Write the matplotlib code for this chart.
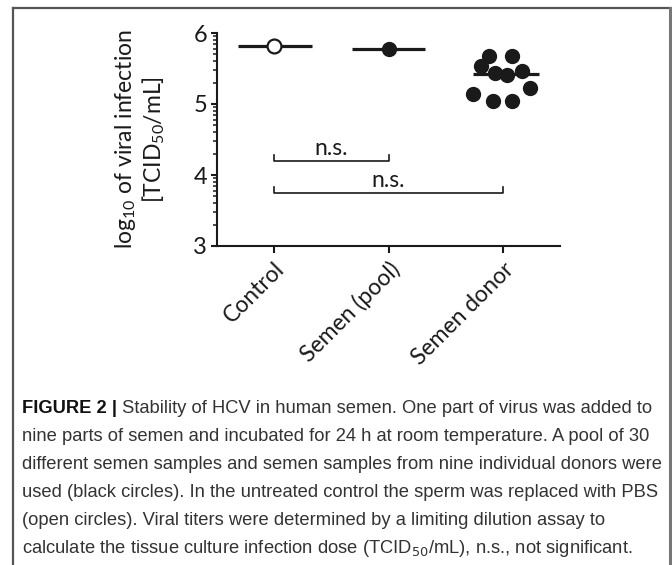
import matplotlib
matplotlib.use("Agg")
import matplotlib.pyplot as plt
import numpy as np
from matplotlib.lines import Line2D

GROUPS = ["Control", "Semen (pool)", "Semen donor"]
CONTROL = [5.81]
POOL = [5.78]
DONOR = [5.67, 5.67, 5.53, 5.43, 5.41, 5.47, 5.14, 5.23, 5.04, 5.04]
DONOR_JITTER = [-0.12, 0.08, -0.19, -0.07, 0.04, 0.17, -0.26, 0.24, -0.09, 0.08]
COMPARISONS = [(0, 1, 4.2, "n.s."), (0, 2, 3.75, "n.s.")]

CAPTION_HEAD = "FIGURE 2 |"
CAPTION = [
    " Stability of HCV in human semen. One part of virus was added to",
    "nine parts of semen and incubated for 24 h at room temperature. A pool of 30",
    "different semen samples and semen samples from nine individual donors were",
    "used (black circles). In the untreated control the sperm was replaced with PBS",
    "(open circles). Viral titers were determined by a limiting dilution assay to",
    "calculate the tissue culture infection dose (TCID$_{50}$/mL), n.s., not significant.",
]

CHART_FONT = "Lato"
CAPTION_FONT = "Liberation Sans"


def main():
    plt.rcParams["mathtext.fontset"] = "custom"
    plt.rcParams["mathtext.rm"] = CHART_FONT
    plt.rcParams["mathtext.it"] = CHART_FONT
    plt.rcParams["font.family"] = CHART_FONT

    fig = plt.figure(figsize=(6.72, 5.65), dpi=100)
    ax = fig.add_axes([217 / 672, 1 - 246 / 565, 343 / 672, 213 / 565])

    ink = "#1a1a1a"

    # median lines
    spans = [(-0.32, 0.33), (0.68, 1.32), (1.74, 2.32)]
    medians = [np.median(CONTROL), np.median(POOL), np.median(DONOR)]
    for (x0, x1), m in zip(spans, medians):
        ax.plot([x0, x1], [m, m], color=ink, lw=2.3, solid_capstyle="butt", zorder=2)

    ax.plot([0] * len(CONTROL), CONTROL, "o", ms=10, mfc="white", mec=ink, mew=1.6, zorder=3)
    ax.plot([1] * len(POOL), POOL, "o", ms=10, mfc=ink, mec=ink, zorder=3)
    donor_x = 2 + np.array(DONOR_JITTER)
    ax.plot(donor_x, DONOR, "o", ms=10, mfc=ink, mec=ink, zorder=3)

    # significance brackets
    for a, b, y, label in COMPARISONS:
        h = 0.085
        ax.plot([a, a, b, b], [y + h, y, y, y + h], color=ink, lw=1.2, zorder=2)
        ax.text((a + b) / 2, y + 0.02, label, ha="center", va="bottom",
                fontsize=16.5, color=ink)

    ax.set_xlim(-0.5, 2.5)
    ax.set_ylim(3, 6)
    ax.set_yticks([3, 4, 5, 6])
    minor = [n + np.log10(k) for n in (3, 4, 5) for k in range(2, 10)]
    ax.set_yticks(minor, minor=True)
    ax.set_xticks(range(len(GROUPS)))
    ax.set_xticklabels(GROUPS, rotation=45, ha="right", rotation_mode="anchor",
                       fontsize=16.5, color=ink)
    for lab in ax.get_yticklabels():
        lab.set_fontsize(17)
        lab.set_color(ink)

    for side in ("top", "right"):
        ax.spines[side].set_visible(False)
    for side in ("left", "bottom"):
        ax.spines[side].set_linewidth(1.5)
        ax.spines[side].set_color(ink)
    ax.tick_params(axis="y", which="major", length=4, width=1.5, color=ink, pad=3)
    ax.tick_params(axis="y", which="minor", length=2.6, width=1.1, color=ink)
    ax.tick_params(axis="x", which="major", length=5, width=1.5, color=ink, pad=4)

    ax.set_ylabel("log$_{10}$ of viral infection\n[TCID$_{50}$/mL]",
                  fontsize=16.5, color=ink, linespacing=1.12, labelpad=19)

    # frame around the figure panel
    frame = dict(color="#555555", lw=1.6, transform=fig.transFigure)
    fig.add_artist(Line2D([13 / 672, 1.0], [1 - 8 / 565, 1 - 8 / 565], **frame))
    fig.add_artist(Line2D([13 / 672, 13 / 672], [0, 1 - 8 / 565], **frame))
    fig.add_artist(Line2D([670 / 672, 670 / 672], [0, 1 - 8 / 565], color="#777777",
                          lw=2.2, transform=fig.transFigure))

    # caption
    x0 = 22 / 672
    line_h = 28 / 565
    y_first = 1 - 413 / 565
    cap_size = 13.25
    head = fig.text(x0, y_first, CAPTION_HEAD, fontsize=cap_size, fontweight="bold",
                    family=CAPTION_FONT, color="#111111", va="baseline")
    fig.canvas.draw()
    bb = head.get_window_extent()
    for i, line in enumerate(CAPTION):
        x = bb.x1 / fig.bbox.width if i == 0 else x0
        t = fig.text(x, y_first - i * line_h, line, fontsize=cap_size,
                     family=CAPTION_FONT, color="#333333", va="baseline")
        t.set_math_fontfamily("dejavusans")

    fig.savefig("out.png", dpi=100)


if __name__ == "__main__":
    main()
